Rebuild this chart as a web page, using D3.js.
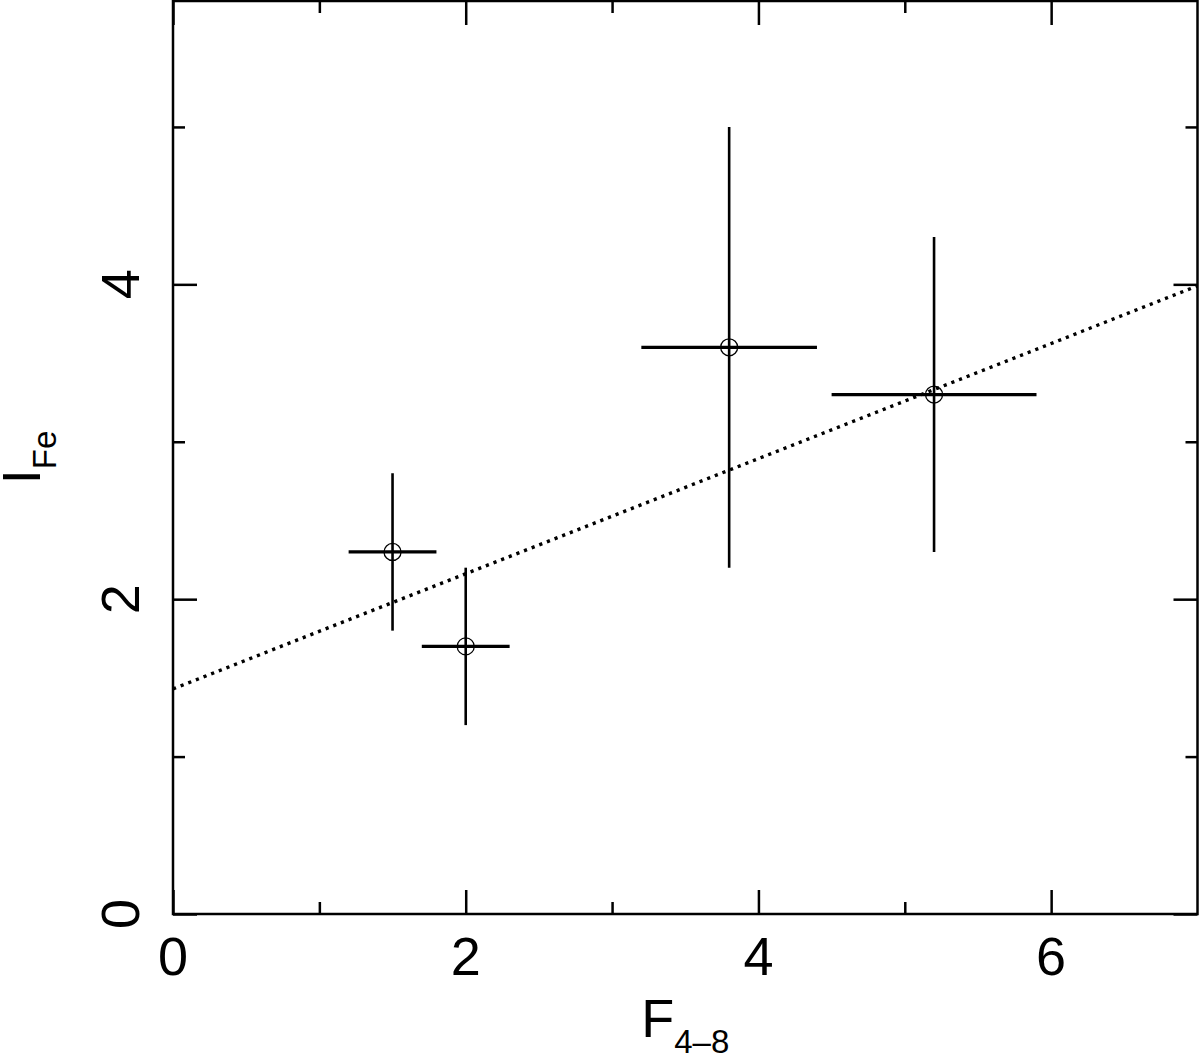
<!DOCTYPE html>
<html>
<head>
<meta charset="utf-8">
<script src="https://cdn.jsdelivr.net/npm/d3@7"></script>
<style>
  html, body { margin: 0; padding: 0; background: #fff; }
  svg { display: block; font-family: "Liberation Sans", Arial, Helvetica, sans-serif; }
</style>
</head>
<body>
<svg id="chart" width="1200" height="1056"></svg>
<script>
"use strict";

// Gemeten waarden (F 4-8 keV tegen I Fe)
const fluxX = [1.5, 2.0, 3.8, 5.2];
const fluxLo = [1.2, 1.7, 3.2, 4.5];
const fluxHi = [1.8, 2.3, 4.4, 5.9];
const ironY = [2.3, 1.7, 3.6, 3.3];
const ironLo = [1.8, 1.2, 2.2, 2.3];
const ironHi = [2.8, 2.2, 5.0, 4.3];

// Lineaire fit
const fitX = [0, 7];
const fitY = [1.43, 3.99];

// Ticks
const xMajor = [0, 2, 4, 6];
const xMinor = [1, 3, 5];
const yMajor = [0, 2, 4];
const yMinor = [1, 3, 5];

const kader = { links: 173, rechts: 1197.5, boven: 1, onder: 914 };

const svg = d3.select("#chart");
const x = d3.scaleLinear().domain([0, 7]).range([kader.links, kader.rechts]);
const y = d3.scaleLinear().domain([0, 5.8]).range([kader.onder, kader.boven]);

// assen: ticks naar binnen, lang voor hoofd- en kort voor tussenticks
function ticks(axis, values, size, transform) {
    const g = svg.append("g")
        .attr("transform", transform)
        .call(axis.tickValues(values).tickSize(size).tickSizeOuter(0).tickFormat(""));
    g.select(".domain").remove();
    g.selectAll("line").attr("stroke", "#000").attr("stroke-width", 2.5);
    return g;
}
ticks(d3.axisBottom(x), xMajor, -24, `translate(0,${kader.onder})`);
ticks(d3.axisBottom(x), xMinor, -12, `translate(0,${kader.onder})`);
ticks(d3.axisTop(x), xMajor, -24, `translate(0,${kader.boven})`);
ticks(d3.axisTop(x), xMinor, -12, `translate(0,${kader.boven})`);
ticks(d3.axisLeft(y), yMajor, -24, `translate(${kader.links},0)`);
ticks(d3.axisLeft(y), yMinor, -12, `translate(${kader.links},0)`);
ticks(d3.axisRight(y), yMajor, -24, `translate(${kader.rechts},0)`);
ticks(d3.axisRight(y), yMinor, -12, `translate(${kader.rechts},0)`);

// kader
svg.append("rect")
    .attr("x", kader.links).attr("y", kader.boven)
    .attr("width", kader.rechts - kader.links).attr("height", kader.onder - kader.boven)
    .attr("fill", "none").attr("stroke", "#000").attr("stroke-width", 2.5);

// labels
svg.append("g").selectAll("text")
    .data(xMajor).enter().append("text")
    .attr("x", (d) => x(d))
    .attr("y", 975)
    .attr("text-anchor", "middle")
    .style("font-size", "54px")
    .text((d) => d);

svg.append("g").selectAll("text")
    .data(yMajor).enter().append("text")
    .attr("transform", (d) => `translate(139,${y(d)}) rotate(-90)`)
    .attr("text-anchor", "middle")
    .style("font-size", "54px")
    .text((d) => d);

const xTitel = svg.append("text")
    .attr("x", (kader.links + kader.rechts) / 2)
    .attr("y", 1037)
    .attr("text-anchor", "middle")
    .style("font-size", "54px")
    .text("F");
xTitel.append("tspan").attr("dy", 16).style("font-size", "33px").text("4–8");

const yTitel = svg.append("text")
    .attr("transform", `translate(40,${(kader.boven + kader.onder) / 2}) rotate(-90)`)
    .attr("text-anchor", "middle")
    .style("font-size", "54px")
    .text("I");
yTitel.append("tspan").attr("dy", 16).style("font-size", "33px").text("Fe");

// fitlijn (gestippeld)
svg.append("defs").append("clipPath").attr("id", "plotclip")
    .append("rect").attr("x", kader.links).attr("y", kader.boven)
    .attr("width", kader.rechts - kader.links).attr("height", kader.onder - kader.boven);

svg.append("path")
    .datum(d3.zip(fitX, fitY))
    .attr("clip-path", "url(#plotclip)")
    .attr("d", d3.line().x((d) => x(d[0])).y((d) => y(d[1])))
    .attr("fill", "none")
    .attr("stroke", "#000")
    .attr("stroke-width", 3.4)
    .attr("stroke-dasharray", "3.2 5");

// foutbalken en punten
const punten = d3.range(fluxX.length);
const g = svg.append("g");
g.selectAll("line.h").data(punten).enter().append("line")
    .attr("class", "h")
    .attr("x1", (i) => x(fluxLo[i])).attr("x2", (i) => x(fluxHi[i]))
    .attr("y1", (i) => y(ironY[i])).attr("y2", (i) => y(ironY[i]))
    .attr("stroke", "#000").attr("stroke-width", 3.2);
g.selectAll("line.v").data(punten).enter().append("line")
    .attr("class", "v")
    .attr("x1", (i) => x(fluxX[i])).attr("x2", (i) => x(fluxX[i]))
    .attr("y1", (i) => y(ironLo[i])).attr("y2", (i) => y(ironHi[i]))
    .attr("stroke", "#000").attr("stroke-width", 2.6);
g.selectAll("circle").data(punten).enter().append("circle")
    .attr("cx", (i) => x(fluxX[i]))
    .attr("cy", (i) => y(ironY[i]))
    .attr("r", 8.5)
    .attr("fill", "none")
    .attr("stroke", "#000")
    .attr("stroke-width", 1.3);
</script>
</body>
</html>
